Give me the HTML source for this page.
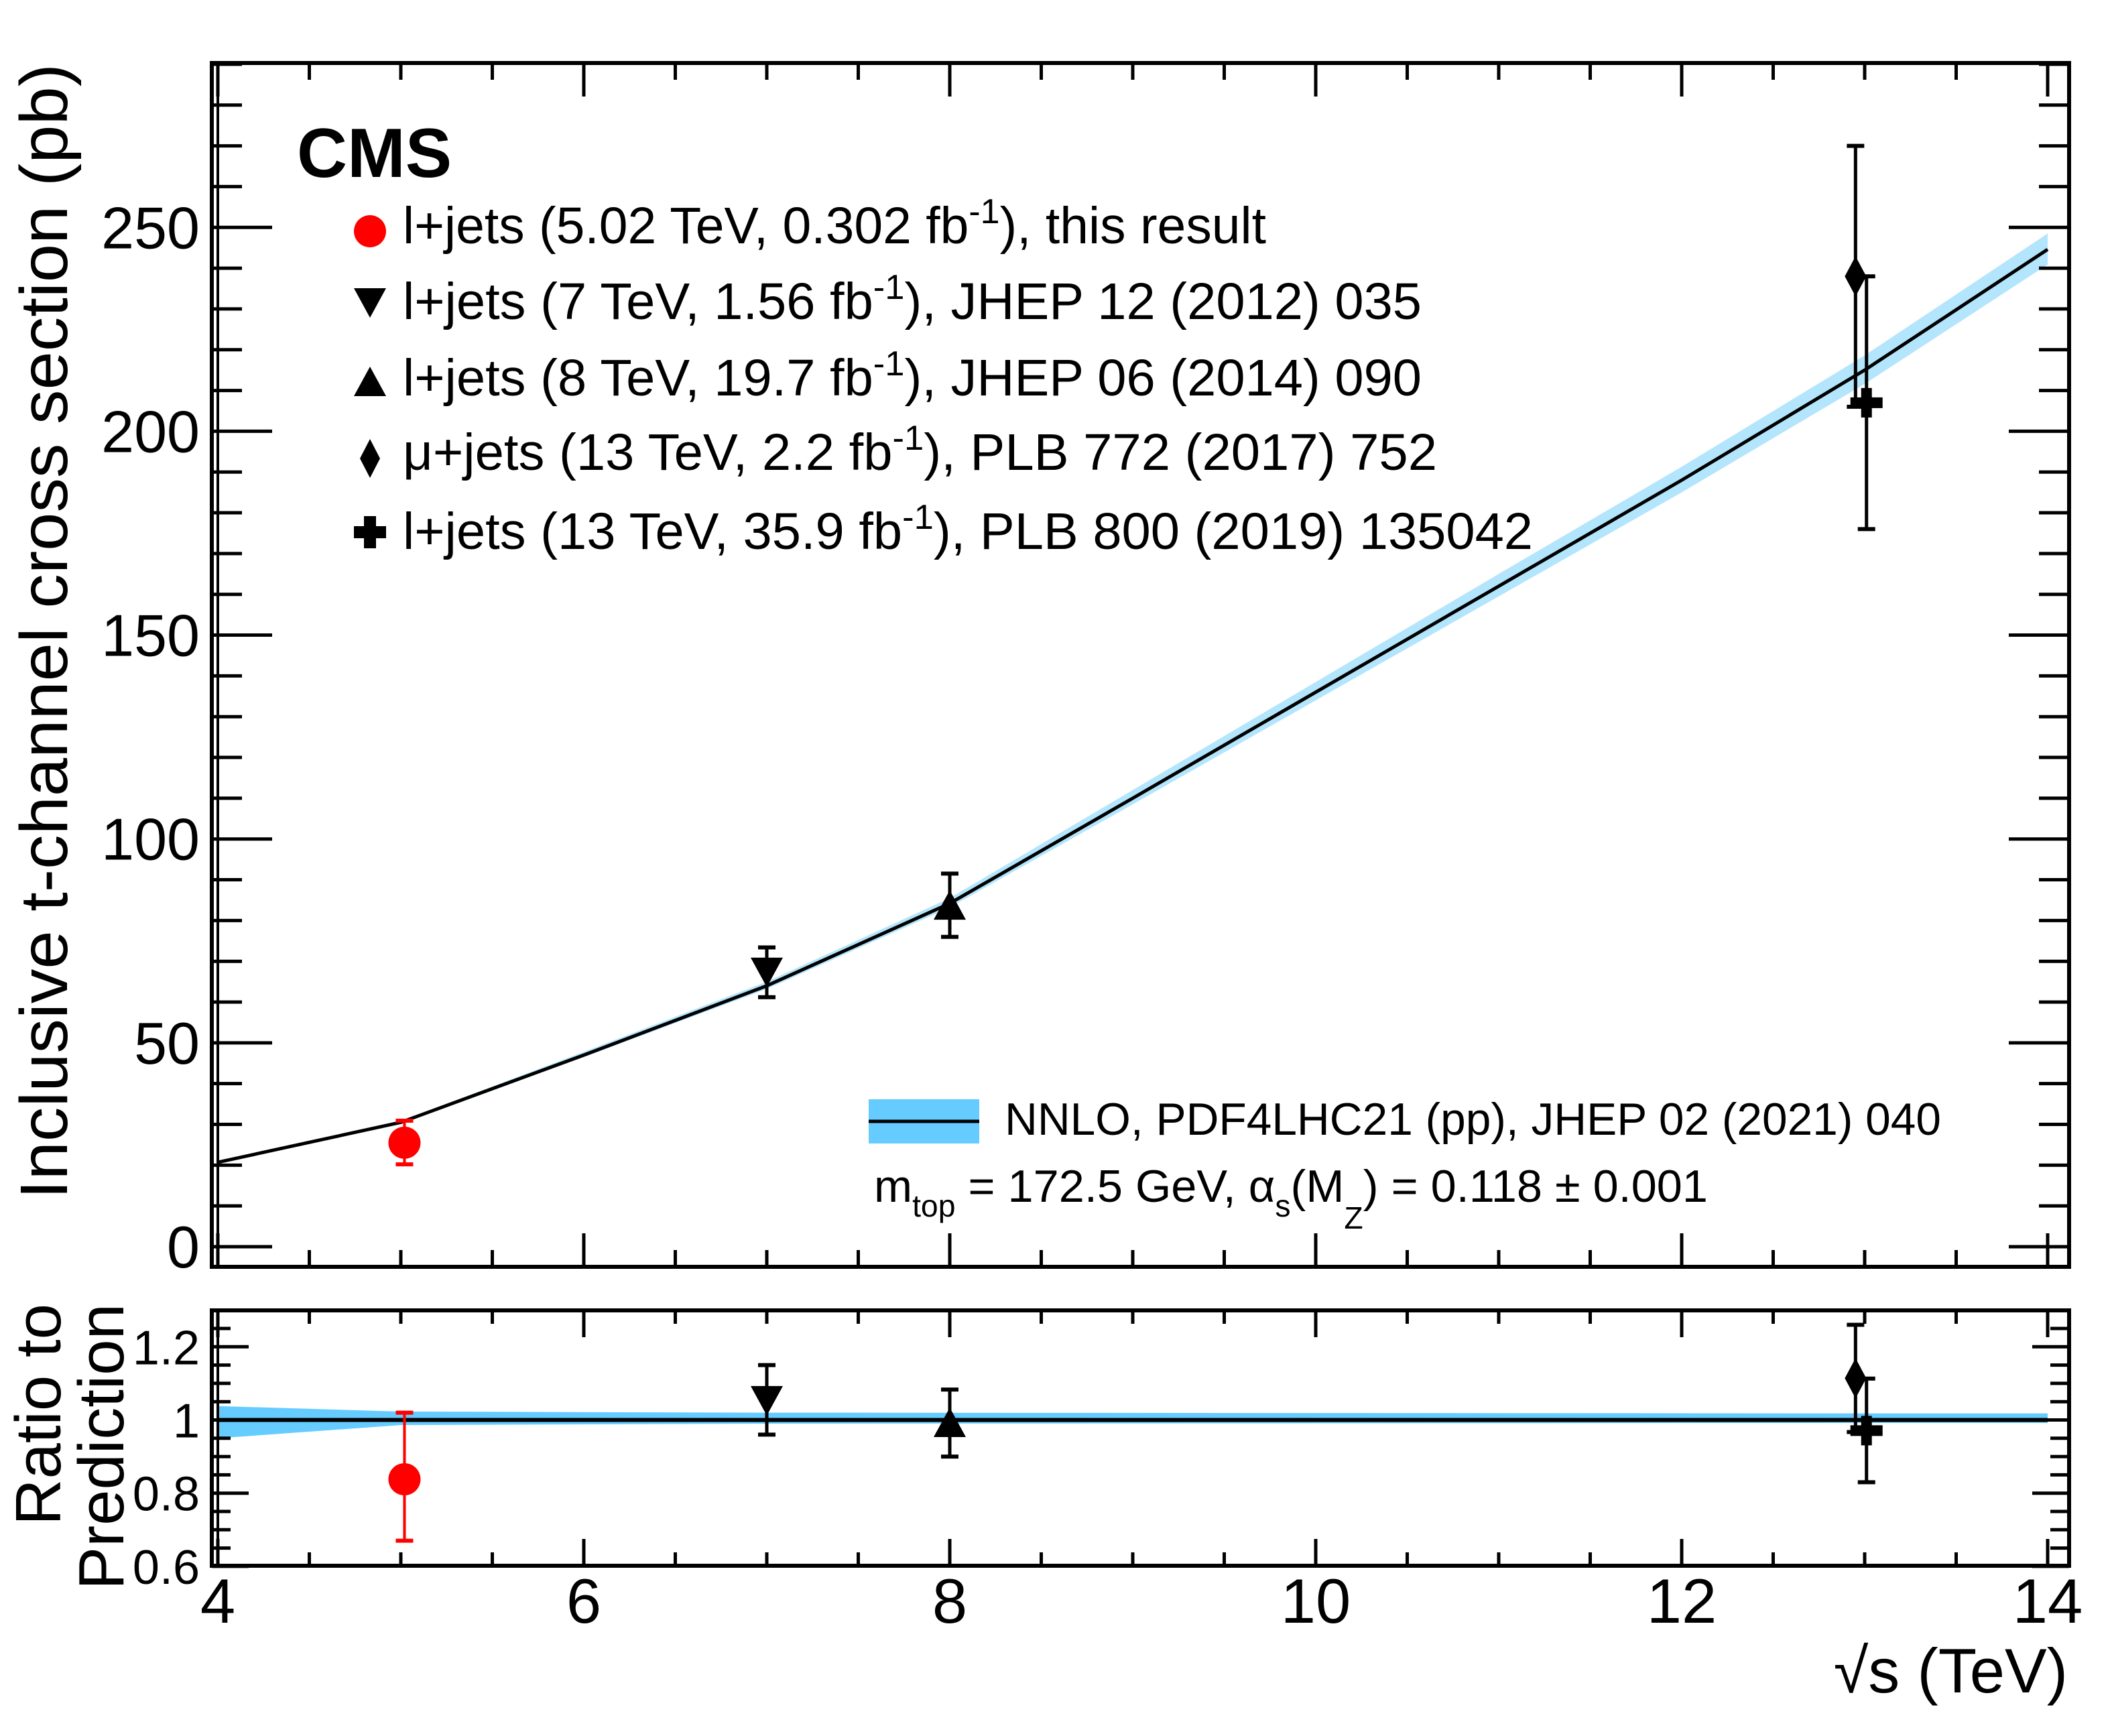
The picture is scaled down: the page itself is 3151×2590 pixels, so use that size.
<!DOCTYPE html>
<html><head><meta charset="utf-8"><style>
html,body{margin:0;padding:0;background:#fff;}
svg{display:block;font-family:"Liberation Sans",Arial,sans-serif;}
</style></head><body>
<svg id="chart" width="3151" height="2590" viewBox="0 0 3151 2590" xmlns="http://www.w3.org/2000/svg">
<rect x="0" y="0" width="3151" height="2590" fill="#fff"/>
<g id="upperPlot"></g>
<g id="ratioPlot"></g>

<text x="443" y="264" font-size="104" font-weight="bold">CMS</text>

<g font-size="77">
<text x="601" y="363" textLength="1288" lengthAdjust="spacingAndGlyphs">l+jets (5.02 TeV, 0.302 fb<tspan dy="-30" font-size="52">-1</tspan><tspan dy="30">), this result</tspan></text>
<text x="601" y="476" textLength="1520" lengthAdjust="spacingAndGlyphs">l+jets (7 TeV, 1.56 fb<tspan dy="-30" font-size="52">-1</tspan><tspan dy="30">), JHEP 12 (2012) 035</tspan></text>
<text x="601" y="590" textLength="1520" lengthAdjust="spacingAndGlyphs">l+jets (8 TeV, 19.7 fb<tspan dy="-30" font-size="52">-1</tspan><tspan dy="30">), JHEP 06 (2014) 090</tspan></text>
<text x="601" y="701" textLength="1543" lengthAdjust="spacingAndGlyphs">μ+jets (13 TeV, 2.2 fb<tspan dy="-30" font-size="52">-1</tspan><tspan dy="30">), PLB 772 (2017) 752</tspan></text>
<text x="601" y="819" textLength="1686" lengthAdjust="spacingAndGlyphs">l+jets (13 TeV, 35.9 fb<tspan dy="-30" font-size="52">-1</tspan><tspan dy="30">), PLB 800 (2019) 135042</tspan></text>
<circle cx="552" cy="345" r="24" fill="#ff0000"/>
<polygon points="528,430 576,430 552,474" fill="#000"/>
<polygon points="528,591 576,591 552,547" fill="#000"/>
<polygon points="552,655 567,684 552,713 537,684" fill="#000"/>
<path d="M543,770 h18 v15 h15 v18 h-15 v15 h-18 v-15 h-15 v-18 h15 z" fill="#000"/>
</g>

<g>
<rect x="1296" y="1640" width="165" height="66" fill="#66ccff"/>
<line x1="1296" y1="1673" x2="1461" y2="1673" stroke="#000" stroke-width="5"/>
<text x="1499" y="1693" font-size="68" textLength="1397" lengthAdjust="spacingAndGlyphs">NNLO, PDF4LHC21 (pp), JHEP 02 (2021) 040</text>
<text x="1304" y="1793" font-size="68" textLength="1244" lengthAdjust="spacingAndGlyphs">m<tspan dy="22" font-size="46">top</tspan><tspan dy="-22"> = 172.5 GeV, α</tspan><tspan dy="22" font-size="46">s</tspan><tspan dy="-22">(M</tspan><tspan dy="40" font-size="46">Z</tspan><tspan dy="-40">) = 0.118 ± 0.001</tspan></text>
</g>

<text transform="translate(100,1789) rotate(-90)" font-size="100" textLength="1694" lengthAdjust="spacingAndGlyphs">Inclusive t-channel cross section (pb)</text>
<text transform="translate(90,1945) rotate(-90)" font-size="96" text-anchor="end">Ratio to</text>
<text transform="translate(184,1945) rotate(-90)" font-size="96" text-anchor="end">Prediction</text>
<text x="3085" y="2525" font-size="94" text-anchor="end">√s (TeV)</text>

<script>
// ---- data ----
const theoryX = [4, 5, 6, 7, 8, 9, 10, 11, 12, 13, 14];
const theoryY = [20.7, 30.5, 47, 64, 84.2, 110, 136, 162, 188, 215, 244.6];
const theoryUp = [0.3, 0.3, 0.8, 1.0, 1.3, 2.0, 2.5, 3.0, 3.3, 3.6, 3.9];
const theoryDn = [0.3, 0.2, 0.5, 0.8, 1.0, 1.5, 2.0, 2.5, 3.0, 3.4, 3.7];
const ratioBandX = [4, 5, 7, 10, 13, 14];
const ratioBandUp = [1.038, 1.023, 1.02, 1.019, 1.018, 1.018];
const ratioBandDn = [0.95, 0.986, 0.99, 0.991, 0.992, 0.992];
const pointNames = ["502", "7", "8", "13-mu", "13"];
const pointX = [5.02, 7, 8, 12.95, 13.01];
const pointY = [25.5, 67.6, 83.5, 238, 207];
const pointYHi = [30.9, 73.4, 91.5, 270, 238];
const pointYLo = [20.2, 61.2, 76, 206, 176];
const ratioY = [0.838, 1.056, 0.99, 1.114, 0.971];
const ratioYHi = [1.02, 1.15, 1.083, 1.26, 1.113];
const ratioYLo = [0.67, 0.96, 0.90, 0.967, 0.83];
const markerShapes = ["circle", "tri-down", "tri-up", "diamond", "cross"];
const markerColors = ["#ff0000", "#000", "#000", "#000", "#000"];
const xTickLabels = [4, 6, 8, 10, 12, 14];
const yTickLabels = [0, 50, 100, 150, 200, 250];
const ratioTickLabels = ["0.6", "0.8", "1", "1.2"];

// ---- axes ----
const X0 = 325, XPU = 273;
const fx = v => X0 + (v - 4) * XPU;
const fyU = v => 1860 - v * 6.083;
const fyR = v => 2118.5 - (v - 1) * 546;
const L = 316, R = 3087, UT = 94, UB = 1890, RT = 1955, RB = 2336;
const NS = "http://www.w3.org/2000/svg";
function mk(tag, attrs, parent) {
  const e = document.createElementNS(NS, tag);
  for (const k in attrs) e.setAttribute(k, attrs[k]);
  parent.appendChild(e);
  return e;
}
const up = document.getElementById('upperPlot');
const rp = document.getElementById('ratioPlot');

// upper band
let pts = [];
theoryX.forEach((x, i) => pts.push(fx(x) + "," + fyU(theoryY[i] + theoryUp[i])));
for (let i = theoryX.length - 1; i >= 0; i--) pts.push(fx(theoryX[i]) + "," + fyU(theoryY[i] - theoryDn[i]));
let e = mk('polygon', {points: pts.join(' '), fill: '#b3e5fc'}, up);


e = mk('polyline', {points: theoryX.map((x, i) => fx(x) + "," + fyU(theoryY[i])).join(' '), fill: 'none', stroke: '#000', 'stroke-width': 5}, up);



// ratio band
pts = [];
ratioBandX.forEach((x, i) => pts.push(fx(x) + "," + fyR(ratioBandUp[i])));
for (let i = ratioBandX.length - 1; i >= 0; i--) pts.push(fx(ratioBandX[i]) + "," + fyR(ratioBandDn[i]));
e = mk('polygon', {points: pts.join(' '), fill: '#66ccff'}, rp);


e = mk('line', {x1: fx(4), x2: fx(14), y1: fyR(1), y2: fyR(1), stroke: '#000', 'stroke-width': 6}, rp);



function marker(parent, shape, cx, cy, col) {
  let m;
  if (shape === 'circle') m = mk('ellipse', {cx: cx, cy: cy, rx: 24, ry: 24, fill: col}, parent);
  else if (shape === 'tri-down') m = mk('polygon', {points: `${cx-24},${cy-20} ${cx+24},${cy-20} ${cx},${cy+24}`, fill: col}, parent);
  else if (shape === 'tri-up') m = mk('polygon', {points: `${cx-24},${cy+20} ${cx+24},${cy+20} ${cx},${cy-24}`, fill: col}, parent);
  else if (shape === 'diamond') m = mk('polygon', {points: `${cx},${cy-30} ${cx+16},${cy} ${cx},${cy+30} ${cx-16},${cy}`, fill: col}, parent);
  else m = mk('path', {d: `M${cx-8},${cy-22} h16 v14 h16 v16 h-16 v14 h-16 v-14 h-16 v-16 h16 z`, fill: col}, parent);
  return m;
}
function drawPoints(parent, fy, ys, hi, lo, prefix) {
  pointX.forEach((x, i) => {
    const g = mk('g', {}, parent);
    
    
    const cx = fx(x), col = markerColors[i];
    const sw = i === 0 ? 4 : 5;
    mk('line', {x1: cx, x2: cx, y1: fy(hi[i]), y2: fy(lo[i]), stroke: col, 'stroke-width': sw}, g);
    mk('line', {x1: cx - 13, x2: cx + 13, y1: fy(hi[i]), y2: fy(hi[i]), stroke: col, 'stroke-width': 6}, g);
    mk('line', {x1: cx - 13, x2: cx + 13, y1: fy(lo[i]), y2: fy(lo[i]), stroke: col, 'stroke-width': 6}, g);
    marker(g, markerShapes[i], cx, fy(ys[i]), col);
  });
}
drawPoints(up, fyU, pointY, pointYHi, pointYLo, 'data');
drawPoints(rp, fyR, ratioY, ratioYHi, ratioYLo, 'ratio');

// frames and ticks
function frame(parent, top, bot, name) {
  const f = mk('rect', {x: L, y: top, width: R - L, height: bot - top, fill: 'none', stroke: '#000', 'stroke-width': 6}, parent);
  
  
  mk('line', {x1: fx(4), x2: fx(4), y1: top, y2: bot, stroke: '#000', 'stroke-width': 4}, parent);
}
frame(up, UT, UB, 'main-frame');
frame(rp, RT, RB, 'ratio-frame');
const tk = {stroke: '#000', 'stroke-width': 5};
for (let v = 4; v <= 14.01; v += 0.5) {
  const major = Math.abs(v - Math.round(v / 2) * 2) < 0.01;
  const x = fx(v);
  mk('line', Object.assign({x1: x, x2: x, y1: UB, y2: UB - (major ? 50 : 25)}, tk), up);
  mk('line', Object.assign({x1: x, x2: x, y1: UT, y2: UT + (major ? 50 : 25)}, tk), up);
  mk('line', Object.assign({x1: x, x2: x, y1: RB, y2: RB - (major ? 40 : 20)}, tk), rp);
  mk('line', Object.assign({x1: x, x2: x, y1: RT, y2: RT + (major ? 40 : 20)}, tk), rp);
}
for (let v = 0; v <= 290; v += 10) {
  const major = v % 50 === 0;
  const y = fyU(v);
  mk('line', Object.assign({x1: L, x2: L + (major ? 90 : 45), y1: y, y2: y}, tk), up);
  mk('line', Object.assign({x1: R, x2: R - (major ? 90 : 45), y1: y, y2: y}, tk), up);
}
for (let k = 12; k <= 26; k++) {
  const v = k * 0.05, major = k % 4 === 0;
  const y = fyR(v);
  mk('line', Object.assign({x1: L, x2: L + (major ? 55 : 28), y1: y, y2: y}, tk), rp);
  mk('line', Object.assign({x1: R, x2: R - (major ? 55 : 28), y1: y, y2: y}, tk), rp);
}
// tick labels
xTickLabels.forEach(v => {
  const t = mk('text', {x: fx(v), y: 2421, 'font-size': 94, 'text-anchor': 'middle'}, rp);
  t.textContent = v;
  
  
});
yTickLabels.forEach(v => {
  const t = mk('text', {x: 298, y: fyU(v) + 31, 'font-size': 88, 'text-anchor': 'end'}, up);
  t.textContent = v;
  
  
});
ratioTickLabels.forEach(s => {
  const t = mk('text', {x: 298, y: fyR(parseFloat(s)) + 26, 'font-size': 72, 'text-anchor': 'end'}, rp);
  t.textContent = s;
  
  
});
</script>
</svg>
</body></html>
